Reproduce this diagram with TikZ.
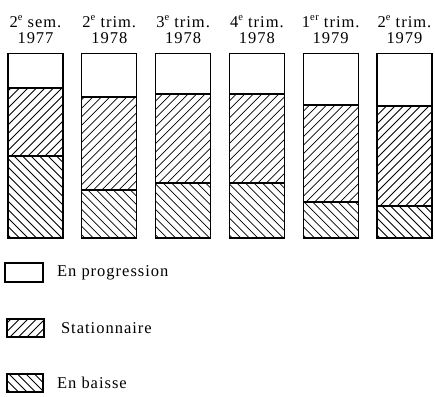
\documentclass[tikz,border=0pt]{standalone}
\usepackage{fontspec}
\setmainfont{Liberation Serif}[LetterSpace=6]
\usepackage{tikz}
\usetikzlibrary{positioning}

% small raised ordinal
\newcommand{\ord}[1]{\raisebox{0.42em}{\fontsize{10.5}{10.5}\selectfont #1}}

% hatch lines in a box: #1,#2 = x left/right, #3,#4 = y top/bottom, #5 = 1 for /, -1 for \
\newcommand{\hatchbox}[5]{%
  \begin{scope}
    \clip (#1,#3) rectangle (#2,#4);
    \foreach \k in {-150,-141.5,...,150}
      \draw[hatch] ({#1+\k},#4) -- ++({#5*150},-150);
  \end{scope}}

\begin{document}
\begin{tikzpicture}[
    x=1pt, y=-1pt,
    bar/.style={draw, line width=1.1pt},
    hatch/.style={line width=0.75pt},
    period/.style={font=\fontsize{16.5}{16}\selectfont, align=center, inner sep=0pt},
    legbox/.style={draw, line width=1.1pt, minimum width=38pt, minimum height=19pt, inner sep=0pt},
    legtext/.style={font=\fontsize{16.5}{16}\selectfont}
]
\useasboundingbox (0,0) rectangle (435,396);

% Bars (top of stationnaire, top of baisse)
\foreach \lab/\a/\b [count=\i from 0] in {
    {2\ord{e} sem.\\1977}/88/156,
    {2\ord{e} trim.\\1978}/97/190,
    {3\ord{e} trim.\\1978}/94/183,
    {4\ord{e} trim.\\1978}/94/183,
    {1\ord{er} trim.\\1979}/105/202,
    {2\ord{e} trim.\\1979}/106/206}
{
    \pgfmathsetmacro\xl{8+73.8*\i}
    \pgfmathsetmacro\xr{\xl+55}
    \hatchbox{\xl}{\xr}{\a}{\b}{1}
    \hatchbox{\xl}{\xr}{\b}{238}{-1}
    \draw[bar] (\xl,53.5) rectangle (\xr,238);
    \draw[bar] (\xl,\a) -- (\xr,\a);
    \draw[bar] (\xl,\b) -- (\xr,\b);
    \node[period] (per\i) at ({\xl+27.5},29.5) {\lab};
}

% Legend
\node[legbox] (progbox) at (24,272.5) {};
\node[legtext, right=10pt of progbox] (progtext) {En progression};
\hatchbox{7}{44}{319}{337}{1}
\node[legbox, minimum width=37pt, minimum height=18pt] (statbox) at (25.5,328) {};
\node[legtext, right=13pt of statbox] (stattext) {Stationnaire};
\hatchbox{7}{43}{374}{392}{-1}
\node[legbox, minimum width=36pt, minimum height=18pt] (downbox) at (25,383) {};
\node[legtext, right=10pt of downbox] (downtext) {En baisse};
\end{tikzpicture}
\end{document}
